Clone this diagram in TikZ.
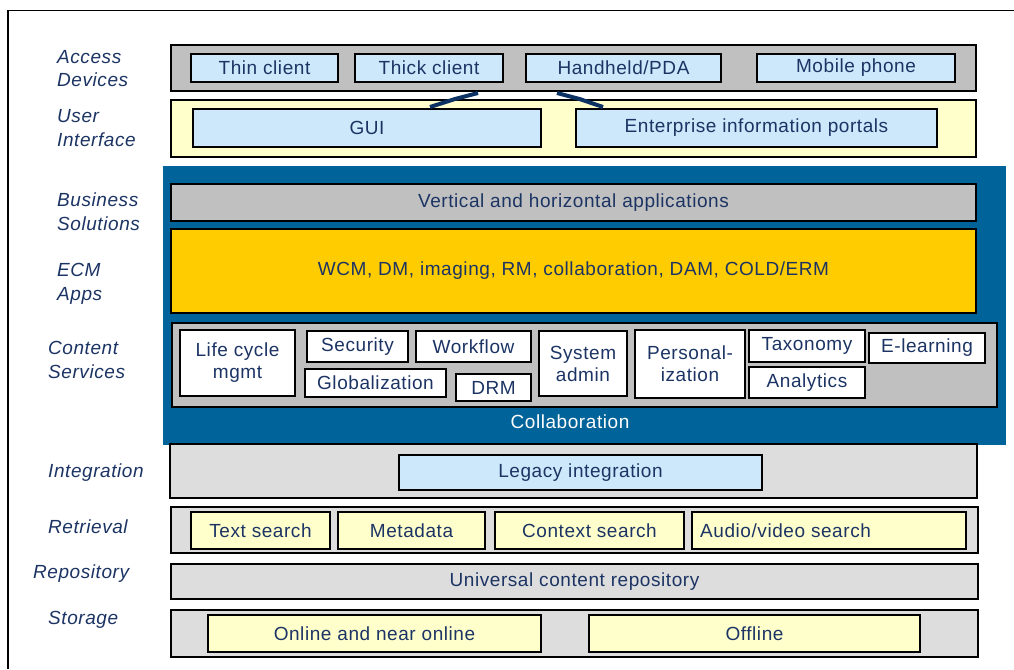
\documentclass[tikz,border=0pt]{standalone}
\usepackage{fontspec}
\setmainfont[LetterSpace=3]{Liberation Sans}
\usetikzlibrary{calc}
\definecolor{txt}{RGB}{28,52,100}
\definecolor{gr}{RGB}{192,192,192}
\definecolor{lgr}{RGB}{221,221,221}
\definecolor{lbl}{RGB}{204,232,250}
\definecolor{lyl}{RGB}{255,255,204}
\definecolor{ylw}{RGB}{255,204,0}
\definecolor{ecmblue}{RGB}{0,99,153}
\definecolor{conn}{RGB}{12,50,100}
\tikzset{
  bx/.style={draw=black, line width=1.5pt, inner sep=0pt, outer sep=0pt, anchor=north west, text=txt, align=center},
  lbl/.style={anchor=west, text=txt, align=left, font=\fontsize{19}{23.5}\selectfont\itshape, inner sep=0pt},
  connline/.style={draw=conn, line width=4pt}
}
\begin{document}
\begin{tikzpicture}[x=1pt,y=-1pt,font=\fontsize{19}{22}\selectfont]
\useasboundingbox (0,0) rectangle (1014,669);
\fill[white] (0,0) rectangle (1014,669);
\draw[line width=1.5pt] (8,669) -- (8,10.5) -- (1014,10.5);
% Access devices
\node[bx, fill=gr, minimum width=805pt, minimum height=46pt] (accbar) at (171,45) {};
\node[bx, fill=lbl, minimum width=147pt, minimum height=28pt] (thin) at (191,54) {Thin client};
\node[bx, fill=lbl, minimum width=148pt, minimum height=28pt] (thick) at (355,54) {Thick client};
\node[bx, fill=lbl, minimum width=195pt, minimum height=28pt] (pda) at (526,54) {Handheld/PDA};
\node[bx, fill=lbl, minimum width=198pt, minimum height=28pt] (mobile) at (757,54) {Mobile phone};
% User interface
\node[bx, fill=lyl, minimum width=805pt, minimum height=57pt] (uibar) at (171,100) {};
\node[bx, fill=lbl, minimum width=348pt, minimum height=38pt] (gui) at (193,109) {GUI};
\node[bx, fill=lbl, minimum width=361pt, minimum height=38pt] (eip) at (576,109) {Enterprise information portals};
\draw[connline] ($(thick.south)+(49,11)$) -- ($(thick.south)+(26,17)$) -- ($(gui.north)+(63,-2)$);
\draw[connline] ($(pda.south)+(-66.5,11)$) -- ($(pda.south)+(-44,17)$) -- ($(eip.north)+(-153.5,-2)$);
% Blue container
\node[fill=ecmblue, inner sep=0pt, outer sep=0pt, anchor=north west, minimum width=843pt, minimum height=279pt] (ecmarea) at (163,166) {};
\node[bx, fill=gr, minimum width=805pt, minimum height=37pt] (bus) at (171,184) {Vertical and horizontal applications};
\node[bx, fill=ylw, minimum width=805pt, minimum height=84pt] (ecm) at (171,229) {WCM, DM, imaging, RM, collaboration, DAM, COLD/ERM};
\node[bx, fill=gr, minimum width=825pt, minimum height=84pt] (csbox) at (172,323) {};
\node[bx, fill=white, minimum width=115pt, minimum height=66pt] (lcm) at (180,330) {Life cycle\\mgmt};
\node[bx, fill=white, minimum width=101pt, minimum height=31pt] (sec) at (307,331) {Security};
\node[bx, fill=white, minimum width=115pt, minimum height=31pt] (wf) at (416,331) {Workflow};
\node[bx, fill=white, minimum width=141pt, minimum height=28pt] (glob) at (305,369) {Globalization};
\node[bx, fill=white, minimum width=75pt, minimum height=27pt] (drm) at (456,374) {DRM};
\node[bx, fill=white, minimum width=88pt, minimum height=65pt] (sys) at (539,331) {System\\admin};
\node[bx, fill=white, minimum width=110pt, minimum height=68pt] (pers) at (635,330) {Personal-\\ization};
\node[bx, fill=white, minimum width=116pt, minimum height=32pt] (tax) at (749,330) {Taxonomy};
\node[bx, fill=white, minimum width=116pt, minimum height=30pt] (elearn) at (869,333) {E-learning};
\node[bx, fill=white, minimum width=116pt, minimum height=31pt] (ana) at (749,367) {Analytics};
\node[text=white, inner sep=0pt] (collab) at (570,422) {Collaboration};
% Integration
\node[bx, fill=lgr, minimum width=807pt, minimum height=54pt] (integ) at (170,444) {};
\node[bx, fill=lbl, minimum width=363pt, minimum height=35pt] (legacy) at (399,455) {Legacy integration};
% Retrieval
\node[bx, fill=lgr, minimum width=807pt, minimum height=46pt] (retr) at (171,507) {};
\node[bx, fill=lyl, minimum width=139pt, minimum height=37pt] (ts) at (191,512) {Text search};
\node[bx, fill=lyl, minimum width=147pt, minimum height=37pt] (meta) at (338,512) {Metadata};
\node[bx, fill=lyl, minimum width=189pt, minimum height=37pt] (ctx) at (495,512) {Context search};
\node[bx, fill=lyl, minimum width=274pt, minimum height=37pt] (av) at (692,512) {};
\node[anchor=west, text=txt, inner sep=0pt] (avt) at ($(av.west)+(8,0)$) {Audio/video search};
% Repository
\node[bx, fill=lgr, minimum width=807pt, minimum height=35pt] (repo) at (171,564) {Universal content repository};
% Storage
\node[bx, fill=lgr, minimum width=807pt, minimum height=47pt] (stor) at (171,610) {};
\node[bx, fill=lyl, minimum width=333pt, minimum height=37pt] (online) at (208,615) {Online and near online};
\node[bx, fill=lyl, minimum width=331pt, minimum height=37pt] (offline) at (589,615) {Offline};
% Left labels
\node[lbl] (lacc) at (57,68.5) {Access\\Devices};
\node[lbl] (lui) at (57,128) {User\\Interface};
\node[lbl] (lbus) at (57,211.5) {Business\\Solutions};
\node[lbl] (lecm) at (57,284) {ECM\\Apps};
\node[lbl] (lcs) at (48,360) {Content\\Services};
\node[lbl] (lint) at (48,473) {Integration};
\node[lbl] (lret) at (48,527) {Retrieval};
\node[lbl] (lrep) at (33,574) {Repository};
\node[lbl] (lsto) at (48,620) {Storage};
\end{tikzpicture}
\end{document}
